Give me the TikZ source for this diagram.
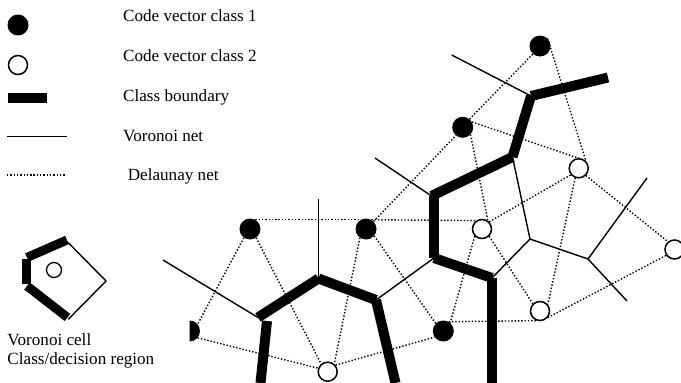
\documentclass[tikz,border=0pt]{standalone}
\usepackage{fontspec}
\setmainfont{Liberation Serif}
\usetikzlibrary{calc}
\begin{document}
\begin{tikzpicture}[x=1pt,y=-1pt,
  cvone/.style={circle,fill=black,inner sep=0pt,minimum size=21pt},
  cvtwo/.style={circle,draw=black,line width=1.5pt,inner sep=0pt,minimum size=19pt},
  cvhalf/.style={circle,inner sep=0pt,minimum size=21pt},
  boundary/.style={line width=10pt,line cap=butt},
  cellbound/.style={line width=9pt,line cap=butt},
  voronoi/.style={line width=1.4pt},
  delaunay/.style={line width=1.4pt,dash pattern=on 1.4pt off 1.9pt},
  legtext/.style={anchor=base west,inner sep=0pt,font=\fontsize{17.1}{20}\selectfont}]
\useasboundingbox (0,0) rectangle (681,383);
\clip (0,0) rectangle (681,383);

% ---------- legend ----------
\node[cvone] (k1) at (18,25) {};
\node[cvtwo] (k2) at (18,65) {};
\fill (8.3,92.7) rectangle (46.7,102.7);
\coordinate (kv1) at (7,136.7);
\coordinate (kv2) at (66.7,136.7);
\draw[voronoi] (kv1) -- (kv2);
\coordinate (kd1) at (7,175);
\coordinate (kd2) at (66,175);
\draw[delaunay] (kd1) -- (kd2);
\node[legtext] (t1) at (123,21.7) {Code vector class 1};
\node[legtext] (t2) at (123,61.7) {Code vector class 2};
\node[legtext] (t3) at (123,101.7) {Class boundary};
\node[legtext] (t4) at (123,141.7) {Voronoi net};
\node[legtext] (t5) at (127.7,180) {Delaunay net};

% ---------- single Voronoi cell ----------
\node[circle,draw,line width=1.3pt,inner sep=0pt,minimum size=15pt] (cc) at (54,270) {};
\coordinate (q1) at (68.3,242.7);
\coordinate (q2) at (106,281);
\coordinate (q3) at (68.3,319.3);
\draw[voronoi] (q1) -- (q2) -- (q3);
\draw[cellbound] (27,257.5) -- (67,240);
\draw[cellbound] (26,258.5) -- (26,283.5);
\draw[cellbound] (27,286) -- (67.5,317.5);
\node[legtext] (t6) at (7.3,345) {Voronoi cell};
\node[legtext] (t7) at (7.3,364.5) {Class/decision region};

% ---------- code vectors ----------
\node[cvone] (P1) at (250,229) {};
\node[cvone] (P2) at (366,229) {};
\node[cvhalf] (P3) at (189.5,331) {};
\node[cvtwo] (P4) at (327.7,371.7) {};
\node[cvone] (P5) at (462.7,127.3) {};
\node[cvone] (P6) at (540,46) {};
\node[cvtwo] (P7) at (578.7,168.3) {};
\node[cvtwo] (P8) at (482,229) {};
\node[cvtwo] (P9) at (540,311) {};
\node[cvtwo] (P10) at (674.5,249.5) {};
\node[cvone] (P11) at (443.3,331) {};
\begin{scope}
  \clip (P3.north) rectangle ($(P3.south)+(12,1)$);
  \fill (P3) circle[radius=10.5pt];
\end{scope}

% ---------- Delaunay net ----------
\draw[delaunay] (P1.60) -- (P2.120);
\draw[delaunay] (P2.60) -- (P8.125);
\draw[delaunay] (P1.235) -- (P3.40);
\draw[delaunay] (P1.305) -- (P4.130);
\draw[delaunay] (P3.320) -- (P4.160);
\draw[delaunay] (P2.235) -- (P4.50);
\draw[delaunay] (P2.320) -- (P11.135);
\draw[delaunay] (P4.40) -- (P11.215);
\draw[delaunay] (P2.45) -- (P5.230);
\draw[delaunay] (P5.50) -- (P6.228);
\draw[delaunay] (P5.30) -- (P7.50);
\draw[delaunay] (P6.45) -- (P7.45);
\draw[delaunay] (P5.317) -- (P8.55);
\draw[delaunay] (P8.45) -- (P7.220);
\draw[delaunay] (P7.250) -- (P9.40);
\draw[delaunay] (P7.315) -- (P10.130);
\draw[delaunay] (P9.320) -- (P10.215);
\draw[delaunay] (P8.315) -- (P9.135);
\draw[delaunay] (P8.225) -- (P11.50);
\draw[delaunay] (P11.60) -- (P9.250);

% ---------- Voronoi vertices ----------
\coordinate (a1) at (260.5,383);
\coordinate (a2) at (267,321);
\coordinate (a3) at (258,317.5);
\coordinate (a4) at (318.5,278.5);
\coordinate (a5) at (376,300);
\coordinate (a6) at (395.5,383);
\coordinate (b1) at (608,77.5);
\coordinate (b2) at (531,96);
\coordinate (b3) at (512.5,157);
\coordinate (b4) at (431.5,196);
\coordinate (b5) at (434,196);
\coordinate (b6) at (434,258);
\coordinate (b7) at (492,278);
\coordinate (b8) at (492,383);
\coordinate (c1) at (163,260);
\coordinate (c2) at (318.5,199);
\coordinate (c4) at (375,158);
\coordinate (c5) at (451.7,55);
\coordinate (c7) at (530,239);
\coordinate (c8) at (588,259);
\coordinate (c9) at (647,178);
\coordinate (c10) at (627,301);

% ---------- Voronoi net ----------
\draw[voronoi] (c1) -- (a3);
\draw[voronoi] (c2) -- (a4);
\draw[voronoi] (a5) -- (b6);
\draw[voronoi] (c4) -- (b4);
\draw[voronoi] (c5) -- (b2);
\draw[voronoi] (b3) -- (c7) -- (b7);
\draw[voronoi] (c7) -- (c8) -- (c9);
\draw[voronoi] (c8) -- (c10);

% ---------- class boundary ----------
\draw[boundary] (a1) -- (a2);
\draw[boundary] (a3) -- (a4);
\draw[boundary] (a4) -- (a5);
\draw[boundary] (a5) -- (a6);
\draw[boundary] (b1) -- (b2);
\draw[boundary] (b2) -- (b3);
\draw[boundary] (b3) -- (b4);
\draw[boundary] (b5) -- (b6);
\draw[boundary] (b6) -- (b7);
\draw[boundary] (b7) -- (b8);
\end{tikzpicture}
\end{document}
